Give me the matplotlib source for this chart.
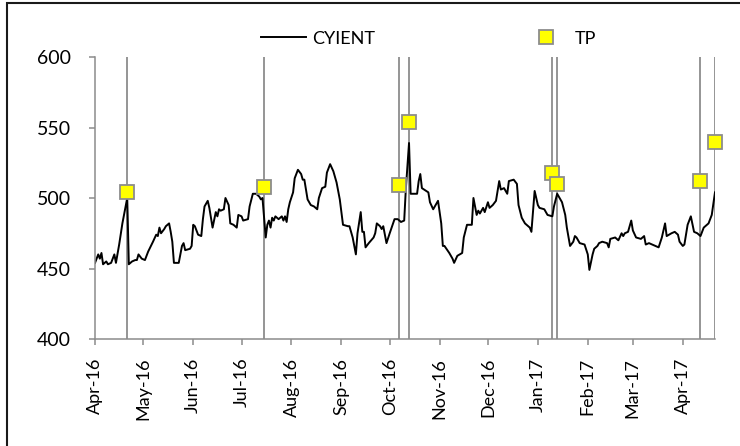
import matplotlib
matplotlib.use('Agg')
import matplotlib.pyplot as plt
import matplotlib.dates as mdates
import pandas as pd
from matplotlib.patches import Rectangle

plt.rcParams['font.family'] = ['Lato', 'DejaVu Sans']

# CYIENT closing prices
price_dates = [
    '2016-04-01', '2016-04-03', '2016-04-04', '2016-04-05', '2016-04-06', '2016-04-08', '2016-04-09',
    '2016-04-11', '2016-04-13', '2016-04-14', '2016-04-16', '2016-04-18', '2016-04-21', '2016-04-22',
    '2016-04-24', '2016-04-26', '2016-04-27', '2016-04-28', '2016-04-30', '2016-05-02', '2016-05-04',
    '2016-05-07', '2016-05-09', '2016-05-10', '2016-05-11', '2016-05-12', '2016-05-14', '2016-05-15',
    '2016-05-17', '2016-05-18', '2016-05-19', '2016-05-20', '2016-05-23', '2016-05-25', '2016-05-26',
    '2016-05-27', '2016-05-30', '2016-05-31', '2016-06-01', '2016-06-02', '2016-06-04', '2016-06-06',
    '2016-06-07', '2016-06-08', '2016-06-10', '2016-06-11', '2016-06-13', '2016-06-15', '2016-06-16',
    '2016-06-17', '2016-06-18', '2016-06-20', '2016-06-21', '2016-06-23', '2016-06-24', '2016-06-26',
    '2016-06-28', '2016-06-29', '2016-07-01', '2016-07-02', '2016-07-05', '2016-07-06', '2016-07-08',
    '2016-07-10', '2016-07-12', '2016-07-13', '2016-07-14', '2016-07-16', '2016-07-17', '2016-07-18',
    '2016-07-19', '2016-07-20', '2016-07-21', '2016-07-22', '2016-07-24', '2016-07-26', '2016-07-27',
    '2016-07-28', '2016-07-29', '2016-07-30', '2016-07-31', '2016-08-02', '2016-08-03', '2016-08-05',
    '2016-08-07', '2016-08-08', '2016-08-09', '2016-08-11', '2016-08-13', '2016-08-15', '2016-08-17',
    '2016-08-18', '2016-08-20', '2016-08-22', '2016-08-23', '2016-08-25', '2016-08-27', '2016-08-29',
    '2016-08-31', '2016-09-02', '2016-09-05', '2016-09-06', '2016-09-08', '2016-09-10', '2016-09-11',
    '2016-09-13', '2016-09-14', '2016-09-15', '2016-09-16', '2016-09-18', '2016-09-21', '2016-09-22',
    '2016-09-23', '2016-09-25', '2016-09-26', '2016-09-27', '2016-09-29', '2016-10-01', '2016-10-04',
    '2016-10-06', '2016-10-08', '2016-10-10', '2016-10-11', '2016-10-13', '2016-10-14', '2016-10-18',
    '2016-10-19', '2016-10-20', '2016-10-21', '2016-10-25', '2016-10-26', '2016-10-28', '2016-10-31',
    '2016-11-02', '2016-11-03', '2016-11-04', '2016-11-07', '2016-11-09', '2016-11-10', '2016-11-12',
    '2016-11-15', '2016-11-16', '2016-11-18', '2016-11-21', '2016-11-22', '2016-11-24', '2016-11-25',
    '2016-11-26', '2016-11-28', '2016-11-29', '2016-12-01', '2016-12-02', '2016-12-04', '2016-12-06',
    '2016-12-08', '2016-12-09', '2016-12-11', '2016-12-13', '2016-12-14', '2016-12-17', '2016-12-19',
    '2016-12-20', '2016-12-22', '2016-12-24', '2016-12-27', '2016-12-28', '2016-12-30', '2017-01-01',
    '2017-01-02', '2017-01-05', '2017-01-07', '2017-01-10', '2017-01-11', '2017-01-13', '2017-01-16',
    '2017-01-18', '2017-01-19', '2017-01-21', '2017-01-23', '2017-01-24', '2017-01-25', '2017-01-27',
    '2017-01-30', '2017-02-01', '2017-02-02', '2017-02-04', '2017-02-05', '2017-02-07', '2017-02-08',
    '2017-02-10', '2017-02-13', '2017-02-14', '2017-02-15', '2017-02-18', '2017-02-20', '2017-02-22',
    '2017-02-23', '2017-02-24', '2017-02-26', '2017-02-28', '2017-03-01', '2017-03-03', '2017-03-06',
    '2017-03-08', '2017-03-09', '2017-03-11', '2017-03-13', '2017-03-17', '2017-03-19', '2017-03-21',
    '2017-03-22', '2017-03-25', '2017-03-27', '2017-03-28', '2017-03-29', '2017-03-30', '2017-04-01',
    '2017-04-02', '2017-04-04', '2017-04-06', '2017-04-08', '2017-04-10', '2017-04-12', '2017-04-14',
    '2017-04-17', '2017-04-19', '2017-04-21',
]
price_values = [
    454, 460, 457, 461, 453, 455, 453,
    454, 460, 454, 467, 482, 500, 453,
    455, 456, 456, 460, 457, 456, 462,
    469, 474, 473, 479, 475, 478, 480,
    482, 476, 469, 454, 454, 466, 468,
    463, 464, 466, 481, 480, 474, 473,
    485, 494, 498, 493, 479, 490, 487,
    492, 491, 492, 500, 495, 482, 481,
    479, 488, 487, 484, 485, 494, 503,
    503, 501, 499, 500, 472, 481, 484,
    479, 486, 484, 487, 485, 487, 484,
    487, 483, 492, 497, 504, 514, 520,
    517, 513, 513, 499, 495, 494, 492,
    500, 507, 508, 518, 524, 519, 511,
    499, 481, 480, 480, 472, 460, 475,
    490, 476, 476, 465, 468, 472, 475,
    482, 480, 478, 480, 468, 475, 485,
    485, 483, 484, 506, 539, 503, 503,
    512, 517, 507, 504, 497, 492, 498,
    482, 466, 466, 461, 457, 454, 459,
    461, 472, 481, 481, 500, 488, 491,
    489, 493, 490, 497, 493, 495, 498,
    512, 506, 507, 503, 512, 513, 510,
    495, 486, 482, 479, 476, 505, 495,
    493, 492, 488, 487, 494, 503, 497,
    488, 479, 466, 469, 473, 472, 468,
    467, 460, 449, 460, 464, 466, 468,
    469, 468, 465, 471, 472, 470, 475,
    473, 475, 476, 484, 477, 472, 471,
    473, 467, 468, 467, 465, 472, 482,
    473, 475, 476, 475, 474, 469, 466,
    467, 481, 487, 476, 475, 473, 479,
    482, 488, 504,
]

# turning points
tp_dates = ['2016-04-21', '2016-07-15', '2016-10-07', '2016-10-13',
            '2017-01-10', '2017-01-13', '2017-04-12', '2017-04-21']
tp_values = [504, 508, 509, 554, 518, 510, 512, 540]

x = pd.to_datetime(price_dates)
tp_x = pd.to_datetime(tp_dates)

fig = plt.figure(figsize=(7.4, 4.46), dpi=100)
ax = fig.add_axes([0.1284, 0.2399, 0.8378, 0.6323])

grey = '#8c8c8c'
ax.vlines(tp_x, 400, 600, colors=grey, lw=1.3, zorder=1)
ax.plot(x, price_values, color='black', lw=1.4, label='CYIENT', zorder=2)
ax.plot(tp_x, tp_values, ls='none', marker='s', ms=10, mfc='#ffff00',
        mec=grey, mew=1.3, label='TP', zorder=3, clip_on=False)

ax.set_ylim(400, 600)
ax.set_yticks([400, 450, 500, 550, 600])
ax.set_xlim(pd.Timestamp('2016-04-01'), pd.Timestamp('2017-04-21'))
ax.xaxis.set_major_locator(mdates.MonthLocator())
ax.xaxis.set_major_formatter(mdates.DateFormatter('%b-%y'))

for s in ['top', 'right']:
    ax.spines[s].set_visible(False)
for s in ['left', 'bottom']:
    ax.spines[s].set_color(grey)
    ax.spines[s].set_linewidth(1.1)

ax.tick_params(axis='y', colors=grey, labelcolor='black', length=4.5, width=1.1,
               labelsize=14, pad=13)
ax.tick_params(axis='x', colors=grey, labelcolor='black', length=4.5, width=1.1,
               labelsize=13, pad=9, labelrotation=90)

fig.legend(loc='center', bbox_to_anchor=(0.579, 0.913), ncol=2, frameon=False,
           fontsize=13, handlelength=2.5, handletextpad=0.33, columnspacing=8.2)

# chart frame (cut off at right/bottom in the original)
fig.add_artist(Rectangle((7 / 740, -0.05), 1.2, 1 - 3 / 446 + 0.05,
                         transform=fig.transFigure, fill=False,
                         edgecolor='#1a1a1a', lw=1.5))

fig.savefig('out.png', dpi=100)
